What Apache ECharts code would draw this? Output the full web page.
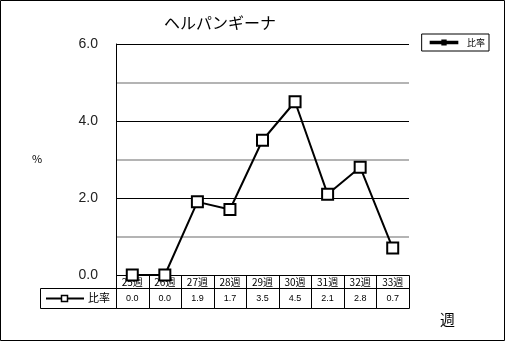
<!DOCTYPE html>
<html><head><meta charset="utf-8">
<script src="https://cdn.jsdelivr.net/npm/echarts@6/dist/echarts.min.js"></script>
<style>html,body{margin:0;padding:0;background:#fff}#c{width:506px;height:342px}</style>
</head><body><div id="c"></div>
<script>
const title = 'ヘルパンギーナ';
const categories = ['25週','26週','27週','28週','29週','30週','31週','32週','33週'];
const seriesName = '比率';
const values = [0.0, 0.0, 1.9, 1.7, 3.5, 4.5, 2.1, 2.8, 0.7];
const yTicks = [0, 2, 4, 6];
const yAxisName = '%';
const xAxisName = '週';

const chart = echarts.init(document.getElementById('c'), null, {renderer: 'canvas'});
const JP = '"Noto Sans CJK JP", sans-serif';
const NUM = '"Liberation Sans", sans-serif';
const GL = 116, GT = 44, GW = 293, GH = 231;
const ROW1 = 13, ROW2 = 20;

chart.setOption({
  animation: false,
  backgroundColor: '#fff',
  title: {text: title, left: 215, top: 10, textAlign: 'center',
    textStyle: {fontFamily: JP, fontSize: 16, fontWeight: 'normal', color: '#000'}},
  legend: {show: true, right: 17, top: 34, orient: 'vertical',
    borderColor: '#000', borderWidth: 1, padding: [4, 4, 4, 8],
    itemWidth: 44, itemHeight: 4, itemGap: 2,
    textStyle: {fontFamily: JP, fontSize: 9, color: '#000', padding: [0,0,0,-4]},
    data: [{name: seriesName, icon: 'path://M0,1.6H16V2.4H0Z M7,0.8H9V3.2H7Z', itemStyle: {color:'#000'}}]},
  grid: {left: GL, top: GT, width: GW, height: GH, show: false},
  xAxis: {type: 'category', data: categories, boundaryGap: true,
    axisLine: {show: false}, axisTick: {show: false}, axisLabel: {show: false}, splitLine: {show: false}},
  yAxis: {type: 'value', min: 0, max: 6, interval: 2,
    axisLine: {show: true, lineStyle: {color: '#000', width: 1}},
    axisTick: {show: false},
    axisLabel: {margin: 18, fontFamily: NUM, fontSize: 14, color: '#222',
      formatter: v => yTicks.includes(v) ? v.toFixed(1) : ''},
    splitLine: {show: true, lineStyle: {color: '#000', width: 1}},
    minorTick: {show: false, splitNumber: 2},
    minorSplitLine: {show: true, lineStyle: {color: '#b4b4b4', width: 2}}
  },
  graphic: [
    {type: 'rect', shape: {x: 0.5, y: 0.5, width: 504, height: 340}, style: {fill: 'none', stroke: '#000', lineWidth: 1}, silent: true},
    {type: 'text', left: 32, top: 153, style: {text: yAxisName, font: '11px ' + JP, fill: '#000'}},
    {type: 'text', left: 440, top: 312, style: {text: xAxisName, font: '15px ' + JP, fill: '#000'}},
    {type: 'rect', shape: {x: 40.5, y: GT + GH + ROW1 + 0.5, width: GL - 40, height: ROW2}, style: {fill: 'none', stroke: '#000', lineWidth: 1}},
    {type: 'line', shape: {x1: 46, y1: GT+GH+ROW1+10.5, x2: 84, y2: GT+GH+ROW1+10.5}, style: {stroke: '#000', lineWidth: 2}},
    {type: 'rect', shape: {x: 61.5, y: GT+GH+ROW1+7.5, width: 6, height: 6}, style: {fill: '#fff', stroke: '#000', lineWidth: 1.5}},
    {type: 'text', left: 88, top: GT+GH+ROW1+4, style: {text: seriesName, font: '11px ' + JP, fill: '#000'}}
  ],
  series: [
    {type: 'custom', name: 'table', silent: true, clip: false, z: 1,
      data: categories.map((c, i) => [i, 0]),
      renderItem: function (params, api) {
        const i = api.value(0);
        const p = api.coord([i, 0]);
        const w = api.size([1, 0])[0];
        const x0 = Math.round(p[0] - w / 2) + 0.5;
        const x1 = Math.round(p[0] + w / 2) + 0.5;
        const y0 = Math.round(p[1]) + 0.5;
        return {type: 'group', children: [
          {type: 'rect', shape: {x: x0, y: y0, width: x1 - x0, height: ROW1}, style: {fill: 'none', stroke: '#000', lineWidth: 1}},
          {type: 'rect', shape: {x: x0, y: y0 + ROW1, width: x1 - x0, height: ROW2}, style: {fill: 'none', stroke: '#000', lineWidth: 1}},
          {type: 'text', style: {text: categories[i], x: p[0], y: y0 + ROW1 / 2 + 0.5, align: 'center', verticalAlign: 'middle', font: '10px ' + JP, fill: '#000'}},
          {type: 'text', style: {text: values[i].toFixed(1), x: p[0], y: y0 + ROW1 + ROW2 / 2 + 0.5, align: 'center', verticalAlign: 'middle', font: '9px ' + NUM, fill: '#000'}}
        ]};
      }
    },
    {type: 'line', name: seriesName, data: values, z: 5,
      symbol: 'rect', symbolSize: 11, showAllSymbol: true,
      lineStyle: {color: '#000', width: 2},
      itemStyle: {color: '#fff', borderColor: '#000', borderWidth: 2},
      emphasis: {disabled: true}}
  ]
});
</script></body></html>
